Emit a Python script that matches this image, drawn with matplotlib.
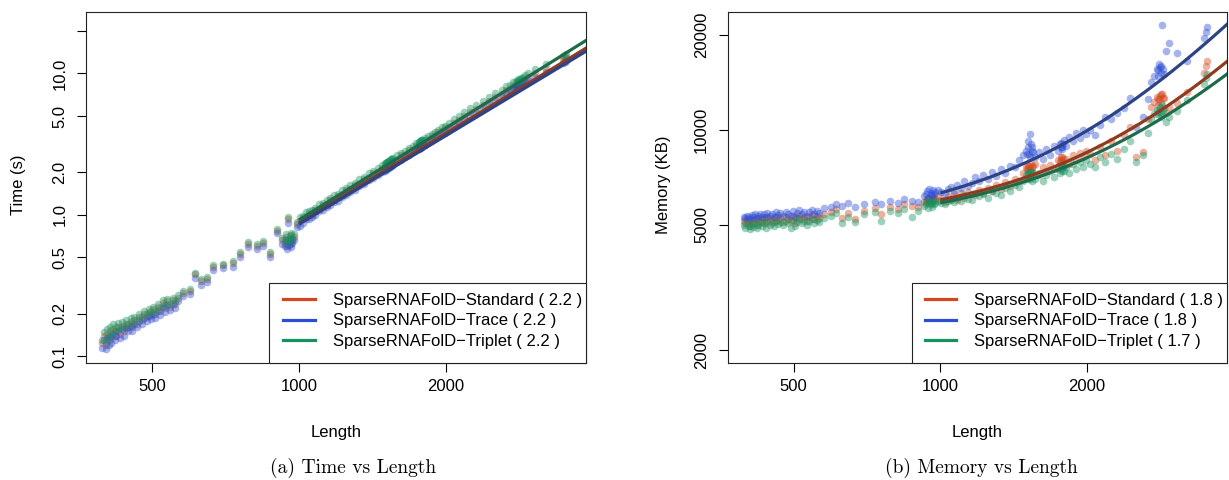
import numpy as np
import matplotlib
matplotlib.use("Agg")
import matplotlib.pyplot as plt
from matplotlib.lines import Line2D
from matplotlib.patches import Rectangle

plt.rcParams['font.family'] = ['Liberation Sans', 'DejaVu Sans']

# ---------------- data ----------------
series_names = ["SparseRNAFolD\u2212Standard", "SparseRNAFolD\u2212Trace", "SparseRNAFolD\u2212Triplet"]
time_exponent_labels = ["2.2", "2.2", "2.2"]
mem_exponent_labels = ["1.8", "1.8", "1.7"]

lengths = [
    395, 398, 402, 405, 408, 410, 413, 416, 420, 423, 427, 430, 434, 438, 442, 447, 452, 456, 460,
    465, 470, 476, 482, 488, 493, 498, 503, 508, 514, 520, 526, 532, 538, 545, 552, 558, 565,
    578, 598, 612, 630, 647, 667, 699, 733, 757, 787, 820, 844, 873, 901,
    925, 935, 940, 945, 950, 955, 958, 962, 965, 970, 975, 990,
    1005, 1020, 1035, 1050, 1065, 1080, 1100, 1120, 1140, 1160, 1180, 1200, 1225, 1250, 1275, 1300,
    1330, 1360, 1390, 1420, 1450, 1480, 1500, 1510, 1520, 1530, 1545, 1560, 1590, 1620, 1650, 1680,
    1710, 1740, 1760, 1775, 1790, 1810, 1840, 1870, 1900, 1930, 1960, 1990,
    2030, 2080, 2130, 2180, 2240, 2300, 2380, 2450, 2520, 2600, 2660, 2700, 2740, 2780, 2810, 2850,
    2880, 2900, 2950, 3050, 3200, 3480, 3500, 3520,
    1505, 1515, 1525, 1535, 1540, 1550, 1765, 1770, 1780, 1785, 2790, 2800, 2820, 2830, 2840, 2860,
]

time_standard = [
    .125, .14, .12, .145, .13, .15, .135, .155, .14, .15, .16, .145, .165, .15, .17, .16, .175, .16, .18,
    .17, .19, .18, .2, .19, .205, .195, .215, .2, .225, .21, .24, .22, .245, .225, .25, .235, .26,
    .28, .29, .38, .34, .355, .43, .44, .455, .53, .62, .6, .63, .53, .77,
    .66, .63, .7, .6, .93, .65, .68, .62, .72, .66, .7, .86,
    .9, .95, .96, 1.02, 1.0, 1.08, 1.1, 1.17, 1.18, 1.27, 1.28, 1.36, 1.39, 1.5, 1.52, 1.62,
    1.66, 1.8, 1.83, 1.98, 2.0, 2.16, 2.15, 2.25, 2.22, 2.3, 2.32, 2.42, 2.46, 2.64, 2.66, 2.86,
    2.88, 3.08, 3.05, 3.2, 3.18, 3.36, 3.38, 3.62, 3.62, 3.86, 3.9, 4.1,
    4.2, 4.5, 4.7, 5.0, 5.3, 5.6, 6.0, 6.4, 6.8, 7.2, 7.6, 7.8, 8.1, 8.2, 8.5, 8.7,
    8.9, 9.1, 9.4, 10.0, 10.8, 12.4, 12.6, 12.9,
    2.2, 2.25, 2.28, 2.3, 2.35, 2.38, 3.1, 3.15, 3.2, 3.22, 8.3, 8.35, 8.5, 8.55, 8.6, 8.75,
]
time_trace = [
    .115, .13, .112, .135, .12, .14, .125, .145, .13, .14, .15, .135, .155, .14, .158, .15, .165, .15, .168,
    .16, .178, .168, .188, .178, .192, .183, .2, .188, .21, .196, .225, .205, .23, .212, .235, .22, .245,
    .265, .275, .36, .32, .335, .41, .42, .43, .5, .59, .57, .6, .5, .74,
    .62, .6, .66, .57, .88, .61, .64, .59, .68, .63, .66, .82,
    .84, .88, .93, .94, .96, 1.0, 1.07, 1.08, 1.14, 1.17, 1.24, 1.26, 1.34, 1.39, 1.46, 1.5,
    1.6, 1.66, 1.76, 1.83, 1.92, 2.0, 2.06, 2.1, 2.14, 2.15, 2.22, 2.26, 2.37, 2.45, 2.57, 2.66,
    2.78, 2.88, 2.94, 2.98, 3.06, 3.12, 3.26, 3.36, 3.5, 3.6, 3.76, 3.82,
    4.0, 4.27, 4.46, 4.75, 5.03, 5.32, 5.7, 6.08, 6.46, 6.84, 7.22, 7.41, 7.7, 7.79, 8.07, 8.27,
    8.45, 8.65, 8.93, 9.5, 10.3, 11.8, 12.0, 12.3,
    2.09, 2.14, 2.17, 2.19, 2.23, 2.26, 2.95, 2.99, 3.04, 3.06, 7.9, 7.93, 8.08, 8.12, 8.17, 8.31,
]
time_triplet = [
    .13, .148, .126, .155, .138, .16, .145, .168, .15, .16, .172, .155, .176, .16, .18, .17, .186, .17, .19,
    .18, .2, .19, .21, .2, .215, .205, .225, .21, .235, .22, .25, .23, .255, .235, .26, .245, .27,
    .29, .3, .39, .35, .365, .44, .45, .47, .55, .64, .62, .65, .55, .8,
    .69, .66, .73, .63, .96, .68, .71, .65, .75, .69, .73, .89,
    .97, .98, 1.04, 1.06, 1.09, 1.12, 1.19, 1.22, 1.28, 1.31, 1.38, 1.41, 1.5, 1.56, 1.64, 1.68,
    1.78, 1.86, 1.97, 2.05, 2.15, 2.24, 2.32, 2.34, 2.38, 2.4, 2.5, 2.52, 2.64, 2.74, 2.85, 2.96,
    3.09, 3.2, 3.27, 3.33, 3.4, 3.49, 3.63, 3.76, 3.88, 4.0, 4.17, 4.25,
    4.5, 4.8, 5.0, 5.35, 5.67, 6.0, 6.4, 6.85, 7.3, 7.7, 8.1, 8.35, 8.7, 8.8, 9.1, 9.3,
    9.5, 9.7, 10.1, 10.7, 11.6, 13.3, 13.5, 13.8,
    2.31, 2.36, 2.39, 2.42, 2.47, 2.5, 3.26, 3.31, 3.36, 3.38, 8.7, 8.77, 8.93, 8.98, 9.03, 9.19,
]

mem_standard = [
    5150, 5050, 5200, 5100, 4950, 5180, 5080, 5220, 5000, 5150, 5250, 5100, 5200, 5050, 5280, 5150, 5230, 5100, 5300,
    5180, 5250, 5120, 5300, 5200, 5150, 5320, 5060, 5250, 5350, 5200, 5300, 5150, 5280, 5360, 5200, 5320, 5250,
    5400, 5500, 5600, 5250, 5450, 5200, 5550, 5650, 5400, 5700, 5600, 5800, 5750, 5700,
    5900, 5950, 6050, 5850, 6100, 5950, 6000, 5900, 6100, 5980, 6050, 6150,
    6000, 5900, 6150, 6050, 6250, 6000, 6300, 6100, 6350, 6250, 6200, 6450, 6300, 6550, 6400, 6700,
    6500, 6850, 6650, 7000, 6900, 7300, 7600, 7450, 7700, 7500, 7350, 7800, 7200, 7600, 7400, 7750,
    7500, 8000, 7900, 8200, 7700, 8100, 7800, 8300, 8000, 8450, 8200, 8600,
    8400, 8000, 8800, 8300, 9200, 8600, 9600, 10200, 8200, 8500, 10800, 11800, 12300, 12700, 12500, 13000,
    12600, 11300, 11800, 12200, 13200, 15200, 16000, 16500,
    7500, 7700, 7400, 7800, 7600, 7700, 8000, 8200, 7900, 8100, 12000, 12500, 12800, 13000, 12200, 12600,
]
mem_trace = [
    5300, 5250, 5350, 5300, 5200, 5380, 5280, 5400, 5250, 5350, 5420, 5300, 5400, 5280, 5450, 5350, 5420, 5300, 5480,
    5380, 5450, 5330, 5500, 5400, 5350, 5520, 5300, 5450, 5560, 5400, 5500, 5350, 5480, 5580, 5420, 5520, 5450,
    5650, 5700, 5800, 5750, 5850, 5700, 5800, 5900, 5800, 5950, 5850, 6050, 5950, 5900,
    6150, 6250, 6400, 6100, 6500, 6200, 6300, 6150, 6450, 6250, 6350, 6450,
    6350, 6250, 6500, 6600, 6400, 6700, 6550, 6900, 6650, 6800, 7100, 6900, 7200, 7000, 7350, 7150,
    7500, 7300, 7700, 7600, 8000, 8300, 8600, 9200, 8400, 9700, 8800, 8200, 8500, 8100, 8700, 8300,
    8900, 8600, 9000, 8800, 9300, 8900, 9500, 9200, 9800, 9400, 10000, 9700,
    10000, 9600, 10400, 11000, 10800, 11300, 11700, 12600, 10200, 11000, 12500, 14200, 14800, 15600, 16200, 21500,
    15000, 17800, 18900, 17500, 16500, 19600, 20500, 21200,
    8400, 8800, 8200, 9000, 8600, 8500, 8800, 9100, 8700, 9000, 14800, 15500, 15800, 16000, 15200, 15600,
]
mem_triplet = [
    5000, 4900, 5050, 4950, 4850, 5030, 4930, 5080, 4880, 5000, 5100, 4960, 5050, 4900, 5130, 5000, 5080, 4950, 5150,
    5030, 5100, 4980, 5150, 5050, 4900, 5170, 4950, 5100, 5200, 5050, 5150, 5000, 5130, 5200, 5050, 5170, 5100,
    5250, 5350, 5450, 5050, 5300, 5100, 5400, 5500, 5150, 5550, 5450, 5600, 5300, 5550,
    5750, 5800, 5900, 5650, 5950, 5800, 5850, 5700, 5950, 5800, 5880, 5950,
    5850, 5800, 5950, 6000, 5900, 6100, 5950, 6200, 6050, 6000, 6300, 6150, 6250, 6100, 6400, 6300,
    6200, 6550, 6400, 6700, 6600, 6900, 7200, 7000, 7300, 7100, 6900, 7000, 7300, 6900, 7200, 7400,
    7100, 7500, 7300, 7700, 7400, 7600, 7300, 7800, 7500, 7900, 7600, 8000,
    7800, 7600, 8200, 7900, 8400, 8100, 8700, 9200, 7900, 8300, 9800, 10800, 11200, 11600, 11400, 12000,
    11700, 10600, 11000, 11500, 12400, 14000, 14600, 15000,
    7100, 7300, 7000, 7400, 7200, 7300, 7500, 7700, 7400, 7600, 11200, 11500, 11800, 11300, 11000, 11600,
]

# fitted curves: time = a * (L/1000)^k ; memory = c + b * L^k
time_fit_a = [0.88, 0.86, 0.92]
time_fit_k = [2.10, 2.08, 2.16]
mem_fit_c = [4995, 4843, 4850]
mem_fit_b = [0.0040, 0.00584, 0.0081]
mem_fit_k = [1.8, 1.8, 1.7]
fit_start = 1000

x_ticks = [500, 1000, 2000]
time_ticks = [0.1, 0.2, 0.5, 1.0, 2.0, 5.0, 10.0, 20.0]
time_tick_labels = ["0.1", "0.2", "0.5", "1.0", "2.0", "5.0", "10.0", ""]
mem_ticks = [2000, 5000, 10000, 20000]
mem_tick_labels = ["2000", "5000", "10000", "20000"]

# ---------------- style ----------------
point_colors = ['#D4461C', '#2A4CD6', '#14925F']
line_colors = ['#8E3B20', '#2E4384', '#1F6B49']

W, H = 1229, 480
fig = plt.figure(figsize=(W / 100, H / 100), dpi=100)


def px_axes(l, t, r, b):
    return fig.add_axes([l / W, 1 - b / H, (r - l) / W, (b - t) / H])


ax1 = px_axes(86, 12, 586, 363)
ax2 = px_axes(727.7, 12, 1227, 363)

time_series = [time_standard, time_trace, time_triplet]
mem_series = [mem_standard, mem_trace, mem_triplet]
L = np.array(lengths, dtype=float)
xs = np.geomspace(fit_start, 4200, 300)

legend_box_left = {'time': 0.366, 'mem': 0.3697}

for ax, data, kind in [(ax1, time_series, 'time'), (ax2, mem_series, 'mem')]:
    ax.set_xscale('log')
    ax.set_yscale('log')
    for vals, pc in zip(data, point_colors):
        ax.scatter(L, vals, s=30, color=pc, alpha=0.42, linewidths=0, zorder=2)
    for i in range(3):
        if kind == 'time':
            ys = time_fit_a[i] * (xs / 1000.0) ** time_fit_k[i]
        else:
            ys = mem_fit_c[i] + mem_fit_b[i] * xs ** mem_fit_k[i]
        ax.plot(xs, ys, color=line_colors[i], lw=2.3, zorder=3, solid_capstyle='butt')
    ax.set_xlim(366.4, 3871)
    ax.set_xticks(x_ticks)
    ax.set_xticklabels([str(t) for t in x_ticks])
    ax.xaxis.set_minor_locator(matplotlib.ticker.NullLocator())
    ax.tick_params(axis='both', direction='out', length=6.5, width=0.8, labelsize=12, colors='black')
    ax.tick_params(axis='x', pad=5)
    ax.tick_params(axis='y', pad=7)
    for sp in ax.spines.values():
        sp.set_linewidth(0.8)
        sp.set_color('#222222')
    # legend frame
    x0 = legend_box_left[kind]
    hbox = (363 - 283) / 351.0
    ax.add_patch(Rectangle((x0, 0), 1 - x0, hbox, transform=ax.transAxes, facecolor='white',
                           edgecolor='#222222', lw=0.8, zorder=4, clip_on=False))
    exps = time_exponent_labels if kind == 'time' else mem_exponent_labels
    handles = [Line2D([], [], color=c, lw=2.3) for c in point_colors]
    labels = [f"{n} ( {e} )" for n, e in zip(series_names, exps)]
    leg = ax.legend(handles, labels, loc='lower right', bbox_to_anchor=(1, 10 / 351.0), borderaxespad=0,
                    frameon=False, fontsize=12,
                    handlelength=1.9, handletextpad=1.05, labelspacing=0.33, borderpad=0.25)
    leg.set_zorder(5)

ax1.set_ylim(0.0897, 27.2)
ax1.set_yticks(time_ticks)
ax1.set_yticklabels(time_tick_labels)
ax2.set_ylim(1823, 23650)
ax2.set_yticks(mem_ticks)
ax2.set_yticklabels(mem_tick_labels)
for ax in (ax1, ax2):
    ax.yaxis.set_minor_locator(matplotlib.ticker.NullLocator())
    plt.setp(ax.get_yticklabels(), rotation=90, va='center')

fig.text(18.5 / W, 1 - 185 / H, "Time (s)", rotation=90, ha='center', va='center', fontsize=12)
fig.text(664 / W, 1 - 185 / H, "Memory (KB)", rotation=90, ha='center', va='center', fontsize=12)
fig.text(336 / W, 1 - 432 / H, "Length", ha='center', va='center', fontsize=12)
fig.text(977 / W, 1 - 432 / H, "Length", ha='center', va='center', fontsize=12)
fig.text(353 / W, 1 - 468 / H, "(a) Time vs Length", ha='center', va='center', fontsize=14, family='cmr10')
fig.text(981 / W, 1 - 468 / H, "(b) Memory vs Length", ha='center', va='center', fontsize=14, family='cmr10')

fig.savefig('out.png', dpi=100)
